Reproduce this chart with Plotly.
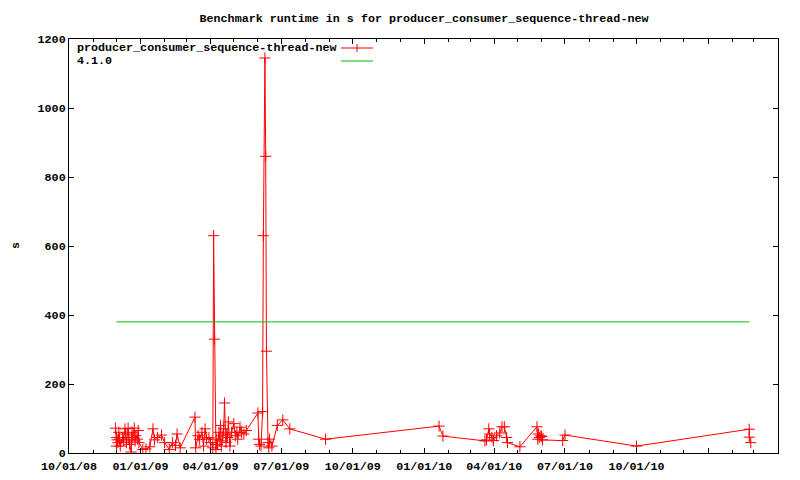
import plotly.graph_objects as go

title = "Benchmark runtime in s for producer_consumer_sequence-thread-new"
series_name = "producer_consumer_sequence-thread-new"
baseline_name = "4.1.0"

dates = [
    "2008-11-30", "2008-12-01", "2008-12-01", "2008-12-02", "2008-12-03", "2008-12-04",
    "2008-12-05", "2008-12-06", "2008-12-09", "2008-12-10", "2008-12-12", "2008-12-13",
    "2008-12-14", "2008-12-16", "2008-12-17", "2008-12-18", "2008-12-20", "2008-12-21",
    "2008-12-22", "2008-12-24", "2008-12-25", "2008-12-26", "2008-12-28", "2008-12-29",
    "2008-12-30",
    "2009-01-04", "2009-01-08", "2009-01-13", "2009-01-17", "2009-01-19", "2009-01-23",
    "2009-01-28", "2009-02-01", "2009-02-07", "2009-02-11", "2009-02-15", "2009-02-17",
    "2009-02-21", "2009-03-12", "2009-03-13", "2009-03-16", "2009-03-18", "2009-03-21",
    "2009-03-23", "2009-03-25", "2009-03-27", "2009-03-30", "2009-04-01", "2009-04-04",
    "2009-04-05", "2009-04-06", "2009-04-08", "2009-04-09", "2009-04-10", "2009-04-12",
    "2009-04-13", "2009-04-14", "2009-04-15", "2009-04-17", "2009-04-18", "2009-04-19",
    "2009-04-21", "2009-04-22", "2009-04-23", "2009-04-24", "2009-04-26", "2009-04-28",
    "2009-05-01", "2009-05-03", "2009-05-05", "2009-05-06", "2009-05-09", "2009-05-11",
    "2009-05-14", "2009-05-17", "2009-06-01", "2009-06-02", "2009-06-03", "2009-06-05",
    "2009-06-07", "2009-06-08", "2009-06-10", "2009-06-11", "2009-06-12", "2009-06-14",
    "2009-06-15", "2009-06-16", "2009-06-19", "2009-06-26", "2009-07-03", "2009-07-12",
    "2009-08-27",
    "2010-01-20", "2010-01-25", "2010-03-20", "2010-03-22", "2010-03-25", "2010-03-26",
    "2010-03-29", "2010-03-31", "2010-04-04", "2010-04-08", "2010-04-11", "2010-04-14",
    "2010-04-17", "2010-04-18", "2010-05-04", "2010-05-26", "2010-05-27", "2010-05-28",
    "2010-05-29", "2010-05-31", "2010-06-01", "2010-06-02", "2010-06-28", "2010-07-01",
    "2010-10-01", "2011-02-23", "2011-02-23", "2011-02-25",
]
runtimes = [
    72, 45, 20, 38, 30, 60,
    40, 20, 45, 35, 70, 55,
    30, 72, 40, 25, 3, 60,
    45, 72, 35, 50, 40, 65,
    30,
    10, 12, 18, 70, 38, 45,
    52, 30, 10, 30, 22, 55,
    15, 104, 15, 50, 40, 60,
    20, 70, 40, 45, 30, 15,
    630, 330, 10, 40, 25, 60,
    35, 80, 20, 50, 70, 145,
    30, 55, 45, 90, 20, 60,
    85, 50, 60, 40, 75, 60,
    55, 65, 116, 40, 25, 20,
    120, 630, 1145, 860, 295, 30,
    15, 40, 20, 80, 96, 70,
    40,
    78, 49, 35, 38, 70, 55,
    45, 36, 50, 58, 76, 76,
    45, 30, 18, 76, 40, 55,
    45, 50, 48, 38, 36, 52,
    20, 69, 46, 30,
]

baseline_dates = ["2008-12-01", "2011-02-23"]
baseline_values = [380, 380]

x_range = ["2008-10-01", "2011-04-01"]
x_tick_dates = ["2008-10-01", "2009-01-01", "2009-04-01", "2009-07-01", "2009-10-01",
                "2010-01-01", "2010-04-01", "2010-07-01", "2010-10-01", "2011-01-01"]
x_tick_labels = ["10/01/08", "01/01/09", "04/01/09", "07/01/09", "10/01/09",
                 "01/01/10", "04/01/10", "07/01/10", "10/01/10", ""]
y_ticks = [0, 200, 400, 600, 800, 1000, 1200]

RED = "#ff0000"
GREEN = "#00c000"
FONT = dict(family="Liberation Mono, DejaVu Sans Mono, monospace", size=11.7, color="black", weight="bold")

fig = go.Figure()
fig.add_trace(go.Scatter(
    x=dates, y=runtimes, mode="lines+markers", name=series_name,
    line=dict(color=RED, width=1),
    marker=dict(symbol="cross-thin", size=8, color=RED, line=dict(color=RED, width=1)),
    showlegend=False,
))
fig.add_trace(go.Scatter(
    x=baseline_dates, y=baseline_values, mode="lines", name=baseline_name,
    line=dict(color=GREEN, width=1), showlegend=False,
))

# the page body has an 8px margin: figure occupies page pixels (8..800, 8..480)
OFF = 8
FIG_W, FIG_H = 800 - OFF, 480 - OFF
# plot area in page pixels: x 69..778, y 39..453
W, H = 709.0, 414.0
def px(xp):
    return (xp - 69) / W
def py(yp):
    return (453 - yp) / H

# gnuplot-style key (text left, sample right)
fig.add_annotation(x=px(75), y=py(48), xref="paper", yref="paper", text=series_name,
                   showarrow=False, xanchor="left", yanchor="middle", font=FONT)
fig.add_annotation(x=px(75), y=py(61), xref="paper", yref="paper", text=baseline_name,
                   showarrow=False, xanchor="left", yanchor="middle", font=FONT)
fig.add_shape(type="line", xref="paper", yref="paper", x0=px(341), x1=px(373), y0=py(48), y1=py(48),
              line=dict(color=RED, width=1))
fig.add_shape(type="line", xref="paper", yref="paper", x0=px(357), x1=px(357), y0=py(44), y1=py(52),
              line=dict(color=RED, width=1))
fig.add_shape(type="line", xref="paper", yref="paper", x0=px(341), x1=px(373), y0=py(61), y1=py(61),
              line=dict(color=GREEN, width=1))

# y axis label
fig.add_annotation(x=0, y=0.5, xref="paper", yref="paper", text="s", textangle=-90,
                   showarrow=False, xanchor="center", yanchor="middle", xshift=-53, font=FONT)

fig.update_layout(
    width=FIG_W, height=FIG_H,
    margin=dict(l=69 - OFF, r=22, t=39 - OFF, b=27, autoexpand=False),
    paper_bgcolor="white", plot_bgcolor="white",
    title=dict(text=title, x=(424 - OFF) / FIG_W, xanchor="center",
               y=1 - (18 - OFF) / FIG_H, yanchor="middle",
               font=FONT, automargin=False),
    font=FONT,
)
fig.update_xaxes(
    range=x_range, type="date", automargin=False,
    tickmode="array", tickvals=x_tick_dates, ticktext=x_tick_labels,
    ticks="inside", ticklen=5, tickcolor="black", tickwidth=1, ticklabelstandoff=2,
    minor=dict(dtick="M1", tick0="2008-10-01", ticks="inside", ticklen=3, tickcolor="black", showgrid=False),
    showline=True, linecolor="black", linewidth=1, mirror="allticks",
    showgrid=False, zeroline=False, tickfont=FONT,
)
fig.update_yaxes(
    range=[0, 1200], tickmode="array", tickvals=y_ticks, automargin=False,
    ticks="inside", ticklen=5, tickcolor="black", tickwidth=1,
    showline=True, linecolor="black", linewidth=1, mirror="allticks",
    showgrid=False, zeroline=False, tickfont=FONT,
)

fig.write_html("out.html")
